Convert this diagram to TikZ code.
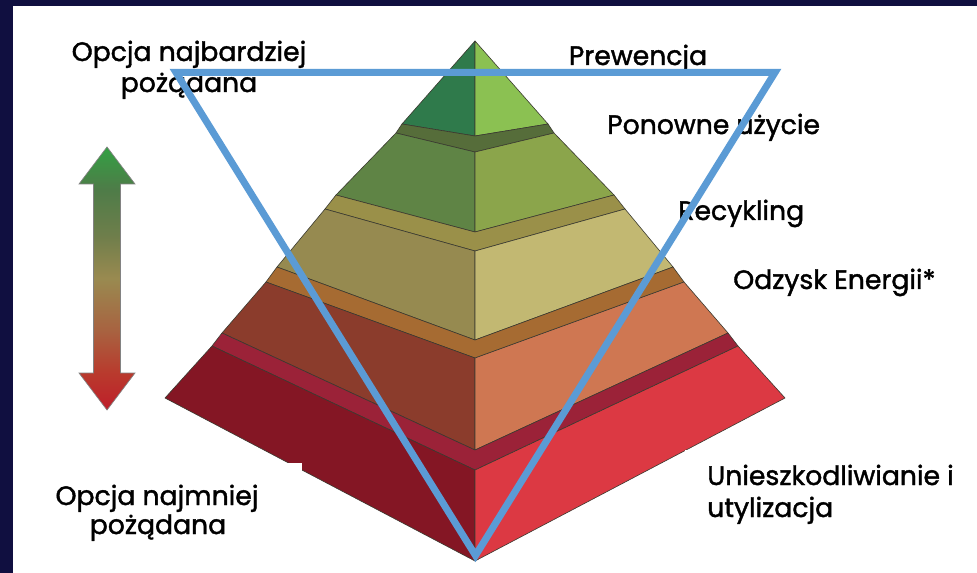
\documentclass[tikz,border=0pt]{standalone}
\usepackage{fontspec}
\setmainfont{Poppins}
\newfontfamily\lblfont{Poppins}[FakeBold=1.5]
\usepackage{tikz}

\definecolor{navyframe}{HTML}{100F40}
\definecolor{edgegray}{HTML}{3A3A30}
\definecolor{hierblue}{HTML}{5B9BD5}
\definecolor{lonel}{HTML}{2F7A4B}
\definecolor{loner}{HTML}{8BC152}
\definecolor{ltwot}{HTML}{566D3A}
\definecolor{ltwol}{HTML}{5F8445}
\definecolor{ltwor}{HTML}{8BA54B}
\definecolor{lthreet}{HTML}{9A9049}
\definecolor{lthreel}{HTML}{968A50}
\definecolor{lthreer}{HTML}{C2B872}
\definecolor{lfourt}{HTML}{A66B32}
\definecolor{lfourl}{HTML}{8B3C2C}
\definecolor{lfourr}{HTML}{CF7752}
\definecolor{lfivet}{HTML}{9B2238}
\definecolor{lfivel}{HTML}{841624}
\definecolor{lfiver}{HTML}{DC3943}
\definecolor{arrgreen}{HTML}{33A043}
\definecolor{arrdkgreen}{HTML}{4E7C48}
\definecolor{arrolive}{HTML}{6F7E4B}
\definecolor{arrkhaki}{HTML}{998A50}
\definecolor{arrbrown}{HTML}{A86240}
\definecolor{arrbrick}{HTML}{B93A2D}
\definecolor{arrred}{HTML}{BE1E2A}

\pgfdeclareverticalshading{prioritygrad}{100bp}{color(0bp)=(arrred); color(25bp)=(arrred); color(32bp)=(arrbrick); color(40bp)=(arrbrown); color(50bp)=(arrkhaki); color(58bp)=(arrolive); color(67bp)=(arrdkgreen); color(75bp)=(arrgreen); color(100bp)=(arrgreen)}

\tikzset{
  face/.style={draw=edgegray, line width=0.45pt, line join=round},
  lbl/.style={font=\lblfont\fontsize{20}{24}\selectfont, inner sep=0pt, text=black},
  hierline/.style={draw=hierblue, line width=5.25pt, line join=miter}
}

\begin{document}
\begin{tikzpicture}[x=0.75pt,y=0.75pt,yscale=-1,xscale=1]
\useasboundingbox (0,0) rectangle (977,573);

%Frame
\fill [navyframe] (0,0) rectangle (977,573);
\fill [white] (13,6) rectangle (977,573);

%Shape: Arrow
\shade [shading=prioritygrad, draw={rgb, 255:red, 130; green, 130; blue, 130 }, line width=0.5pt] (107,147) -- (135,184) -- (120.5,184) -- (120.5,373) -- (135,373) -- (107,410) -- (79,373) -- (93.5,373) -- (93.5,184) -- (79,184) -- cycle ;

%Pyramid: level 1
\draw [face, fill=lonel] (475,41) -- (402,124) -- (475,136) -- cycle ;
\draw [face, fill=loner] (475,41) -- (548,124) -- (475,136) -- cycle ;
%Pyramid: level 2
\draw [face, fill=ltwot] (396,133) -- (475,152) -- (554,133) -- (548,124) -- (475,136) -- (402,124) -- cycle ;
\draw [face, fill=ltwol] (396,133) -- (475,152) -- (475,232) -- (336,195) -- cycle ;
\draw [face, fill=ltwor] (554,133) -- (475,152) -- (475,232) -- (614,195) -- cycle ;
%Pyramid: level 3
\draw [face, fill=lthreet] (325,209) -- (475,251) -- (625,209) -- (614,195) -- (475,232) -- (336,195) -- cycle ;
\draw [face, fill=lthreel] (325,209) -- (475,251) -- (475,340) -- (277,267) -- cycle ;
\draw [face, fill=lthreer] (625,209) -- (475,251) -- (475,340) -- (673,267) -- cycle ;
%Pyramid: level 4
\draw [face, fill=lfourt] (266,282) -- (475,358) -- (684,282) -- (673,267) -- (475,340) -- (277,267) -- cycle ;
\draw [face, fill=lfourl] (266,282) -- (475,358) -- (475,450) -- (222,333) -- cycle ;
\draw [face, fill=lfourr] (684,282) -- (475,358) -- (475,450) -- (728,333) -- cycle ;
%Pyramid: level 5
\draw [face, fill=lfivet] (212,346) -- (475,470) -- (738,346) -- (728,333) -- (475,450) -- (222,333) -- cycle ;
\draw [face, fill=lfivel] (212,346) -- (475,470) -- (475,561) -- (165,398) -- cycle ;
\draw [face, fill=lfiver] (738,346) -- (475,470) -- (475,561) -- (785,398) -- cycle ;

%Label backgrounds
\fill [white] (13,463) rectangle (302,558);
\fill [white] (685,450) rectangle (977,573);

% Text Node
\node [lbl, anchor=base] (most1) at (189,61) {Opcja najbardziej};
% Text Node
\node [lbl, anchor=base] (most2) at (189,92) {pożądana};
% Text Node
\node [lbl, anchor=base] (prev) at (638,65) {Prewencja};
% Text Node
\node [lbl, anchor=base west] (reuse) at (607,134) {Ponowne użycie};
% Text Node
\node [lbl, anchor=base west] (recyc) at (678,220) {Recykling};
% Text Node
\node [lbl, anchor=base west] (energy) at (733,289) {Odzysk Energii*};
% Text Node
\node [lbl, anchor=base west] (disp1) at (707,485) {Unieszkodliwianie i};
% Text Node
\node [lbl, anchor=base west] (disp2) at (707,517) {utylizacja};
% Text Node
\node [lbl, anchor=base] (least1) at (157,505) {Opcja najmniej};
% Text Node
\node [lbl, anchor=base] (least2) at (158,534) {pożądana};

%Inverted triangle
\coordinate (topL) at (176,72.5);
\coordinate (topR) at (775,72.5);
\coordinate (tip) at (475.5,555.5);
\draw [hierline] (topL) -- (topR) -- (tip) -- cycle ;

\end{tikzpicture}
\end{document}
